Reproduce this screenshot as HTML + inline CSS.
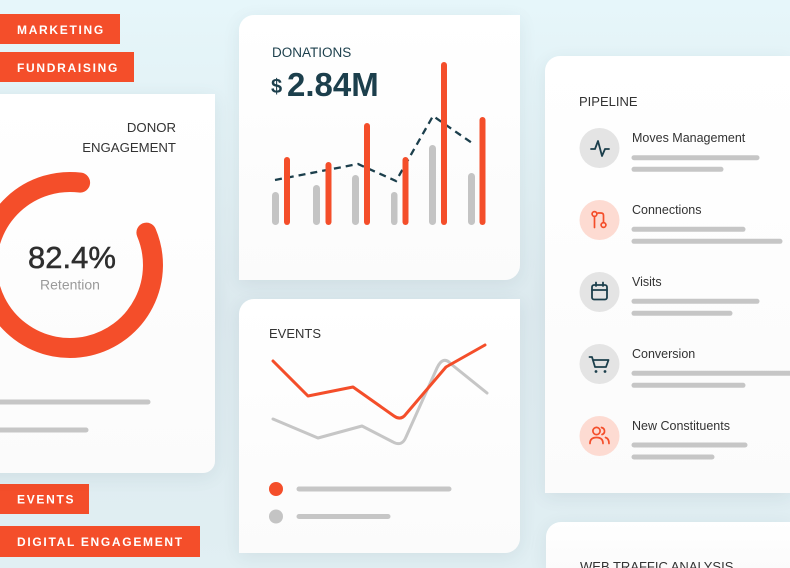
<!DOCTYPE html>
<html><head><meta charset="utf-8"><style>
html,body{margin:0;padding:0;width:790px;height:568px;overflow:hidden;}
body{position:relative;font-family:"Liberation Sans",sans-serif;
background:linear-gradient(180deg,#e6f6fa 0%,#e0eef2 35%,#dce9ee 55%,#e1eff3 100%);}
.card{position:absolute;background:linear-gradient(180deg,#ffffff 0%,#fbfbfb 100%);box-shadow:0 4px 18px rgba(40,70,80,0.08);}
.tag{position:absolute;left:0;height:30px;background:#f44e2a;}
svg{position:absolute;left:0;top:0;}
</style></head><body>
<div class="tag" style="top:14px;width:120px;"></div>
<div class="tag" style="top:52px;width:134px;"></div>
<div class="tag" style="top:484px;width:89px;"></div>
<div class="tag" style="top:526px;width:200px;height:31px;"></div>

<div class="card" style="left:-20px;top:94px;width:235px;height:379px;border-radius:0 0 12px 0;"></div>
<div class="card" style="left:239px;top:15px;width:281px;height:265px;border-radius:15px 0 15px 0;"></div>
<div class="card" style="left:239px;top:299px;width:281px;height:254px;border-radius:15px 0 15px 0;"></div>
<div class="card" style="left:545px;top:56px;width:245px;height:437px;border-radius:15px 0 0 0;"></div>
<div class="card" style="left:546px;top:522px;width:244px;height:46px;border-radius:15px 0 0 0;"></div>

<svg width="790" height="568" viewBox="0 0 790 568" xmlns="http://www.w3.org/2000/svg" font-family="Liberation Sans, sans-serif">
  <!-- tags text -->
  <g fill="#fff" font-size="12" font-weight="bold" letter-spacing="1.7">
    <text x="17" y="34">MARKETING</text>
    <text x="17" y="72">FUNDRAISING</text>
    <text x="17" y="503.5">EVENTS</text>
    <text x="17" y="546">DIGITAL ENGAGEMENT</text>
  </g>

  <!-- Donor engagement -->
  <g fill="#333" font-size="13.2" text-anchor="end">
    <text x="176" y="132">DONOR</text>
    <text x="176" y="152">ENGAGEMENT</text>
  </g>
  <path d="M146.4 232.6 A83 83 0 1 1 80.1 182.6" fill="none" stroke="#f44e2a" stroke-width="20" stroke-linecap="round"/>
  <text x="72" y="268" font-size="31" fill="#2e2e2e" stroke="#2e2e2e" stroke-width="0.5" text-anchor="middle">82.4%</text>
  <text x="70" y="289.5" font-size="14" fill="#9a9a9a" text-anchor="middle">Retention</text>
  <g stroke="#c6c6c6" stroke-width="5" stroke-linecap="round">
    <line x1="-5" y1="402" x2="148" y2="402"/>
    <line x1="-5" y1="430" x2="86" y2="430"/>
  </g>

  <!-- Donations -->
  <text x="272" y="57" font-size="13.5" fill="#1c3f4c">DONATIONS</text>
  <text x="271" y="93" font-size="20" font-weight="bold" fill="#1c3f4c">$</text>
  <text x="287" y="96" font-size="33" font-weight="bold" fill="#1c3f4c">2.84M</text>
  <g fill="#c4c4c4">
    <rect x="272" y="192" width="7" height="33" rx="3.5"/>
    <rect x="313" y="185" width="7" height="40" rx="3.5"/>
    <rect x="352" y="175" width="7" height="50" rx="3.5"/>
    <rect x="391" y="192" width="6.5" height="33" rx="3.2"/>
    <rect x="429" y="145" width="7" height="80" rx="3.5"/>
    <rect x="468" y="173" width="7" height="52" rx="3.5"/>
  </g>
  <path d="M275 180 L358 164 L396 181 L433 116 L472 143" fill="none" stroke="#1c3f4c" stroke-width="2.3" stroke-dasharray="7 5"/>
  <g fill="#f44e2a">
    <rect x="284" y="157" width="6" height="68" rx="3"/>
    <rect x="325.5" y="162" width="6" height="63" rx="3"/>
    <rect x="364" y="123" width="6" height="102" rx="3"/>
    <rect x="402.5" y="157" width="6" height="68" rx="3"/>
    <rect x="441" y="62" width="6" height="163" rx="3"/>
    <rect x="479.5" y="117" width="6" height="108" rx="3"/>
  </g>

  <!-- Events -->
  <text x="269" y="338" font-size="13" fill="#333">EVENTS</text>
  <path d="M273 419 L318 438 L362 426 L393 442 Q402 447 406 437 L437 368 Q443 355 451 364 L487 393" fill="none" stroke="#c6c6c6" stroke-width="3" stroke-linejoin="round" stroke-linecap="round"/>
  <path d="M273 361 L308 396 L353 387 L394 416 Q401 421 406 414 L446 367 L485 345" fill="none" stroke="#f44e2a" stroke-width="3" stroke-linejoin="round" stroke-linecap="round"/>
  <circle cx="276" cy="489" r="7" fill="#f44e2a"/>
  <circle cx="276" cy="516.5" r="7" fill="#c4c4c4"/>
  <g stroke="#c6c6c6" stroke-width="5" stroke-linecap="round">
    <line x1="299" y1="489" x2="449" y2="489"/>
    <line x1="299" y1="516.5" x2="388" y2="516.5"/>
  </g>

  <!-- Pipeline -->
  <text x="579" y="106" font-size="13" fill="#333">PIPELINE</text>
  <circle cx="599.5" cy="148" r="20" fill="#e4e4e4"/>
  <circle cx="599.5" cy="220" r="20" fill="#fddbd2"/>
  <circle cx="599.5" cy="292" r="20" fill="#e4e4e4"/>
  <circle cx="599.5" cy="364" r="20" fill="#e4e4e4"/>
  <circle cx="599.5" cy="436" r="20" fill="#fddbd2"/>

  <!-- icons -->
  <path d="M591 149 H595 L598 141 L602 156 L605 149 H609" fill="none" stroke="#1c3f4c" stroke-width="1.8" stroke-linejoin="round" stroke-linecap="round"/>
  <g fill="none" stroke="#f44e2a" stroke-width="1.7" stroke-linecap="round">
    <circle cx="594.5" cy="214" r="2.4"/>
    <line x1="594.5" y1="216.5" x2="594.5" y2="227.5"/>
    <path d="M598 213 H601 Q603.5 213 603.5 215.5 V222.5"/>
    <circle cx="603.5" cy="225" r="2.4"/>
  </g>
  <g fill="none" stroke="#1c3f4c" stroke-width="1.8" stroke-linecap="round" stroke-linejoin="round">
    <rect x="592" y="285" width="15" height="14.5" rx="2"/>
    <line x1="592" y1="290" x2="607" y2="290"/>
    <line x1="596" y1="282.5" x2="596" y2="286"/>
    <line x1="603" y1="282.5" x2="603" y2="286"/>
    <path d="M589.5 357 H592 L595 367 H606 L608.5 360 H593"/>
  </g>
  <circle cx="596" cy="371.5" r="1.4" fill="#1c3f4c"/>
  <circle cx="605" cy="371.5" r="1.4" fill="#1c3f4c"/>
  <g fill="none" stroke="#f44e2a" stroke-width="1.7" stroke-linecap="round">
    <circle cx="596.5" cy="431" r="3.6"/>
    <path d="M590 443.5 Q590 437.5 596.5 437.5 Q603 437.5 603 443.5"/>
    <path d="M601.5 427.5 Q605 428.5 604.5 432 Q604 434 602 434.5"/>
    <path d="M605.5 437.5 Q609 438.5 609 443.5"/>
  </g>

  <g fill="#333" font-size="12.5">
    <text x="632" y="142">Moves Management</text>
    <text x="632" y="214">Connections</text>
    <text x="632" y="286">Visits</text>
    <text x="632" y="358">Conversion</text>
    <text x="632" y="430">New Constituents</text>
  </g>
  <g stroke="#c6c6c6" stroke-width="5" stroke-linecap="round">
    <line x1="634" y1="157.7" x2="757" y2="157.7"/>
    <line x1="634" y1="169.3" x2="721" y2="169.3"/>
    <line x1="634" y1="229.3" x2="743" y2="229.3"/>
    <line x1="634" y1="241.3" x2="780" y2="241.3"/>
    <line x1="634" y1="301.3" x2="757" y2="301.3"/>
    <line x1="634" y1="313.3" x2="730" y2="313.3"/>
    <line x1="634" y1="373.3" x2="800" y2="373.3"/>
    <line x1="634" y1="385.3" x2="743" y2="385.3"/>
    <line x1="634" y1="445" x2="745" y2="445"/>
    <line x1="634" y1="457" x2="712" y2="457"/>
  </g>

  <text x="580" y="571" font-size="13" fill="#333">WEB TRAFFIC ANALYSIS</text>
</svg>
</body></html>
